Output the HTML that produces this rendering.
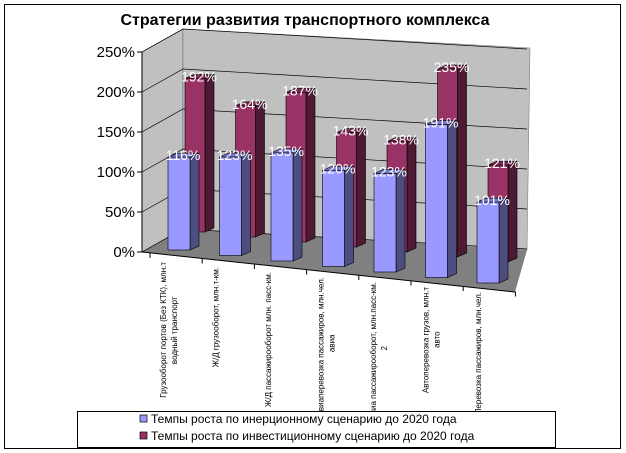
<!DOCTYPE html>
<html><head><meta charset="utf-8"><style>
body{margin:0;background:#fff;}
svg{display:block;font-family:"Liberation Sans",Arial,sans-serif;}
</style></head><body>
<svg width="626" height="453" viewBox="0 0 626 453">
<rect x="4.5" y="4.5" width="616" height="444" fill="#fff" stroke="#000"/>
<text x="305" y="25" text-anchor="middle" font-size="16" font-weight="bold">Стратегии развития транспортного комплекса</text>
<polygon points="142,52 183,29 183,229 142,252" fill="#c0c0c0" stroke="#000" stroke-width="0.6"/>
<polygon points="183,29 530,48 527,250 183,229" fill="#c0c0c0" stroke="#808080" stroke-width="0.6"/>
<polygon points="142,252 183,229 527,250 515,292" fill="#808080"/>
<g id="grid"></g>
<g id="yaxis"></g>
<g id="bars"></g>
<g id="labels"></g>
<g id="cats" font-size="8" fill="#000"></g>
<rect x="77.5" y="411.5" width="478" height="36" fill="#fff" stroke="#000"/>
<g>
<rect x="140" y="415" width="7" height="7" fill="#9999ff" stroke="#000" stroke-width="0.7"/>
<text x="151" y="423" font-size="12">Темпы роста по инерционному сценарию до 2020 года</text>
</g>
<g>
<rect x="140" y="432" width="7" height="7" fill="#993366" stroke="#000" stroke-width="0.7"/>
<text x="151" y="440" font-size="12">Темпы роста по инвестиционному сценарию до 2020 года</text>
</g>
</svg>
<script>
const categories = [
 ["Грузооборот портов (Без КТК), млн.т","водный транспорт"],
 ["Ж/Д грузооборот, млн.т-км."],
 ["Ж/Д пассажирооборот млн. пасс-км."],
 ["Авиаперевозка пассажиров, млн.чел.","авиа"],
 ["Авиа пассажирооборот, млн.пасс-км.","2"],
 ["Автоперевозка грузов, млн.т","авто"],
 ["Перевозка пассажиров, млн.чел."]
];
const inertial = [116,123,135,120,123,191,101];
const investment = [192,164,187,143,138,235,121];
const yTicks = [0,50,100,150,200,250];

const NS="http://www.w3.org/2000/svg";
function mk(tag,attrs,parent){const e=document.createElementNS(NS,tag);for(const k in attrs)e.setAttribute(k,attrs[k]);parent.appendChild(e);return e;}
const K=0.8;
function yFront(v){return 252-v*K;}
function yBack(v){return 229-v*K;}
const grid=document.getElementById('grid'), yax=document.getElementById('yaxis');
yTicks.forEach(v=>{
  const g=mk('polyline',{points:`142,${yFront(v)} 183,${yBack(v)} 527,${yBack(v)+20}`,fill:'none',stroke:'#000','stroke-width':0.7},grid);
  
  
  mk('line',{x1:137,y1:yFront(v),x2:142,y2:yFront(v),stroke:'#000'},yax);
  const t=mk('text',{x:135,y:yFront(v)+5,'text-anchor':'end','font-size':15},yax);
  t.textContent=v+'%';
  
  
});
mk('line',{x1:142,y1:52,x2:142,y2:252,stroke:'#000'},yax);

function catX(i,s){return s===0?168+i*51.5:185+i*50.5;}
function catBase(i,s){return s===0?250+i*5.5:232+i*5;}
const bars=document.getElementById('bars'), labels=document.getElementById('labels');
const DX=9, DY=-4;
function drawBar(i,s,v){
  const w=s===0?22:20;
  const x=catX(i,s), b=catBase(i,s), t=b-v*K;
  const front=s===0?'#9999ff':'#993366', side=s===0?'#4d4d80':'#4d1a33', top=s===0?'#7777cc':'#7a2952';
  const g=mk('g',{},bars);
  
  
  mk('polygon',{points:`${x+w},${b} ${x+w+DX},${b+DY} ${x+w+DX},${t+DY} ${x+w},${t}`,fill:side,stroke:'#000','stroke-width':0.6},g);
  mk('polygon',{points:`${x},${t} ${x+DX},${t+DY} ${x+w+DX},${t+DY} ${x+w},${t}`,fill:top,stroke:'#000','stroke-width':0.6},g);
  mk('rect',{x:x,y:t,width:w,height:b-t,fill:front,stroke:'#000','stroke-width':0.6},g);
  const lb=mk('text',{x:x+w/2+4,y:t+3,'text-anchor':'middle','font-size':14,fill:'#fff'},labels);
  lb.textContent=v+'%';
  
  
}
investment.forEach((v,i)=>drawBar(i,1,v));
inertial.forEach((v,i)=>drawBar(i,0,v));

const cats=document.getElementById('cats');
for(let i=0;i<=7;i++){
  const x=150+i*52.2, y=253+i*5.5;
  mk('line',{x1:x,y1:y,x2:x,y2:y+5,stroke:'#000'},cats);
}
mk('line',{x1:142,y1:252,x2:515,y2:292,stroke:'#000'},cats);
categories.forEach((lines,i)=>{
  const cx=166+i*52.5, ty=262+i*5;
  const t=mk('text',{transform:`translate(${cx},${ty}) rotate(-90)`,'text-anchor':'end'},cats);
  
  
  const w0=lines[0].length*3.9;
  lines.forEach((ln,j)=>{
    const sp=mk('tspan',{x:j===0?0:-w0/2,dy:j===0?0:11,'text-anchor':j===0?'end':'middle'},t);
    sp.textContent=ln;
  });
});
</script>
</body></html>
